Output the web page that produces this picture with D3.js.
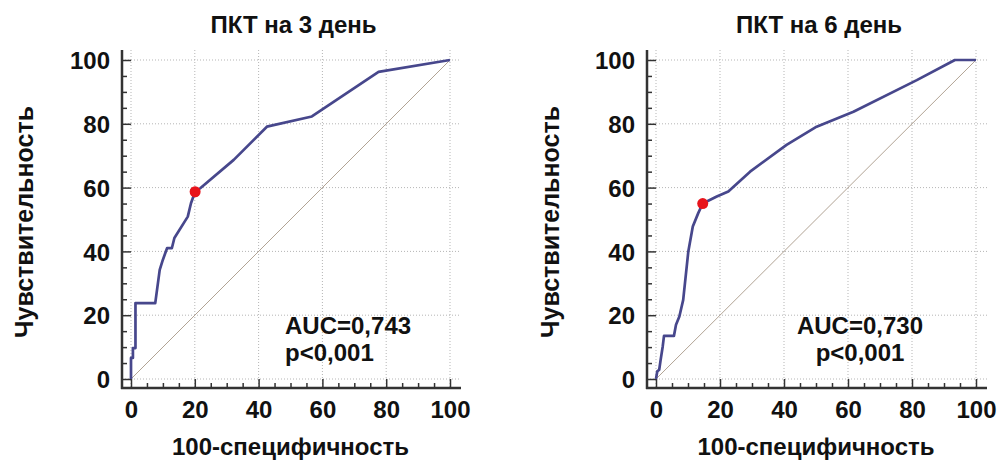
<!DOCTYPE html>
<html>
<head>
<meta charset="utf-8">
<script src="https://cdn.jsdelivr.net/npm/d3@7"></script>
<style>
  body { margin: 0; background: #fff; }
  svg text { font-family: "Liberation Sans", Arial, sans-serif; font-weight: bold; fill: #111; }
</style>
</head>
<body>
<div id="vis"></div>
<script>
// ---------------- datos ----------------
const TITULOS = ["ПКТ на 3 день", "ПКТ на 6 день"];
const ETIQUETA_X = "100-специфичность";
const ETIQUETA_Y = "Чувствительность";
const TICKS = [0, 20, 40, 60, 80, 100];
const TICKS_MENORES = d3.range(0, 101, 5);

// día 3
const FPR_DIA3 = [0, 0, 0.6, 0.6, 1.4, 1.4, 7.6, 9.0, 10.0, 11.3, 12.8, 13.6, 17.8, 18.8, 20.1, 21.7, 32.2, 42.6, 56.7, 77.6, 100];
const TPR_DIA3 = [0, 6.6, 6.6, 9.7, 9.7, 23.8, 23.8, 34.2, 37.4, 41.0, 41.0, 44.2, 50.9, 55.1, 58.7, 59.8, 68.7, 79.1, 82.3, 96.3, 100];
const CORTE_DIA3 = [20.1, 58.7];
const AUC_DIA3 = ["AUC=0,743", "p<0,001"];

// día 6
const FPR_DIA6 = [0, 0.4, 1.0, 1.45, 2.1, 2.5, 5.6, 6.25, 7.3, 8.5, 10.1, 11.5, 13.2, 14.6, 19.0, 22.6, 29.4, 40.8, 50.2, 61.7, 81.5, 93.4, 100];
const TPR_DIA6 = [0, 2.4, 2.9, 6.0, 10.2, 13.5, 13.5, 17.0, 19.6, 24.8, 40.0, 47.8, 52.0, 55.0, 57.2, 58.8, 65.0, 73.4, 79.1, 83.8, 93.7, 100, 100];
const CORTE_DIA6 = [14.6, 55.0];
const AUC_DIA6 = ["AUC=0,730", "p<0,001"];

// ---------------- svg ----------------
const WIDTH = 997;
const HEIGHT = 463;
const SVG = d3.select("#vis").append("svg").attr("width", WIDTH).attr("height", HEIGHT);

const COLOR_CURVA = "#47478c";
const COLOR_PUNTO = "#e8141c";

dibujarRoc({
    x0: 131, x1: 450, titulo: TITULOS[0], fpr: FPR_DIA3, tpr: TPR_DIA3, corte: CORTE_DIA3,
    auc: AUC_DIA3, aucX: 285, aucAnchor: "start", yLabelX: 24
});
dibujarRoc({
    x0: 656, x1: 976, titulo: TITULOS[1], fpr: FPR_DIA6, tpr: TPR_DIA6, corte: CORTE_DIA6,
    auc: AUC_DIA6, aucX: 860, aucAnchor: "middle", yLabelX: 550
});

function dibujarRoc(o) {
    const x = d3.scaleLinear().domain([0, 100]).range([o.x0, o.x1]);
    const y = d3.scaleLinear().domain([0, 100]).range([379, 60]);
    const g = SVG.append("g");

    const ejeX = 388;          // línea del eje inferior
    const ejeY = o.x0 - 9;     // línea del eje izquierdo
    const finX = o.x1 + 11;
    const topY = 50;

    // grilla punteada
    g.selectAll("line.gridV").data(TICKS).enter().append("line")
        .attr("x1", d => x(d)).attr("x2", d => x(d))
        .attr("y1", topY).attr("y2", ejeX)
        .attr("stroke", "#b5b5b5").attr("stroke-width", 1).attr("stroke-dasharray", "1,2");
    g.selectAll("line.gridH").data(TICKS).enter().append("line")
        .attr("x1", ejeY).attr("x2", finX)
        .attr("y1", d => y(d)).attr("y2", d => y(d))
        .attr("stroke", "#b5b5b5").attr("stroke-width", 1).attr("stroke-dasharray", "1,2");

    // diagonal
    g.append("line")
        .attr("x1", x(0)).attr("y1", y(0)).attr("x2", x(100)).attr("y2", y(100))
        .attr("stroke", "#a89888").attr("stroke-width", 0.9);

    // ejes
    const axB = g.append("g").attr("transform", `translate(0,${ejeX})`)
        .call(d3.axisBottom(x).tickValues(TICKS_MENORES).tickSize(-5).tickFormat(""));
    axB.selectAll(".tick line").attr("stroke", "#333").attr("stroke-width", 1.5)
        .filter(d => d % 20 === 0).attr("y2", -9);
    axB.select(".domain").remove();
    const labB = g.append("g").attr("transform", `translate(0,${ejeX})`)
        .call(d3.axisBottom(x).tickValues(TICKS).tickSize(0).tickPadding(13));
    labB.select(".domain").remove();
    labB.selectAll("text").style("font-size", "24px").style("font-family", "Liberation Sans, Arial, sans-serif")
        .style("font-weight", "bold").attr("fill", "#111");

    const axL = g.append("g").attr("transform", `translate(${ejeY},0)`)
        .call(d3.axisLeft(y).tickValues(TICKS_MENORES).tickSize(-5).tickFormat(""));
    axL.selectAll(".tick line").attr("stroke", "#333").attr("stroke-width", 1.5)
        .filter(d => d % 20 === 0).attr("x2", 9);
    axL.select(".domain").remove();
    const labL = g.append("g").attr("transform", `translate(${ejeY},0)`)
        .call(d3.axisLeft(y).tickValues(TICKS).tickSize(0).tickPadding(12));
    labL.select(".domain").remove();
    labL.selectAll("text").style("font-size", "24px").style("font-family", "Liberation Sans, Arial, sans-serif")
        .style("font-weight", "bold").attr("fill", "#111").attr("dy", "0.36em");

    g.append("line").attr("x1", ejeY).attr("x2", ejeY).attr("y1", topY).attr("y2", ejeX + 1)
        .attr("stroke", "#333").attr("stroke-width", 2.5);
    g.append("line").attr("x1", ejeY - 1).attr("x2", finX).attr("y1", ejeX).attr("y2", ejeX)
        .attr("stroke", "#333").attr("stroke-width", 2.5);

    // curva ROC
    const puntos = o.fpr.map((d, i) => [d, o.tpr[i]]);
    g.append("path")
        .datum(puntos)
        .attr("d", d3.line().x(d => x(d[0])).y(d => y(d[1])))
        .attr("fill", "none")
        .attr("stroke", COLOR_CURVA)
        .attr("stroke-width", 2.7)
        .attr("stroke-linejoin", "round");

    g.append("circle")
        .attr("cx", x(o.corte[0])).attr("cy", y(o.corte[1])).attr("r", 5.5)
        .attr("fill", COLOR_PUNTO);

    // textos
    g.append("text")
        .attr("x", (o.x0 + o.x1) / 2 + 3).attr("y", 33)
        .attr("text-anchor", "middle").style("font-size", "24px")
        .text(o.titulo);

    g.append("text")
        .attr("x", (o.x0 + o.x1) / 2).attr("y", 455)
        .attr("text-anchor", "middle").style("font-size", "24px")
        .text(ETIQUETA_X);

    g.append("text")
        .attr("transform", `translate(${o.yLabelX},222) rotate(-90)`)
        .attr("text-anchor", "middle").attr("dy", "0.35em").style("font-size", "25px")
        .text(ETIQUETA_Y);

    g.selectAll("text.auc").data(o.auc).enter().append("text")
        .attr("class", "auc")
        .attr("x", o.aucX).attr("y", (d, i) => 334 + i * 27)
        .attr("text-anchor", o.aucAnchor).style("font-size", "24px")
        .text(d => d);
}
</script>
</body>
</html>
